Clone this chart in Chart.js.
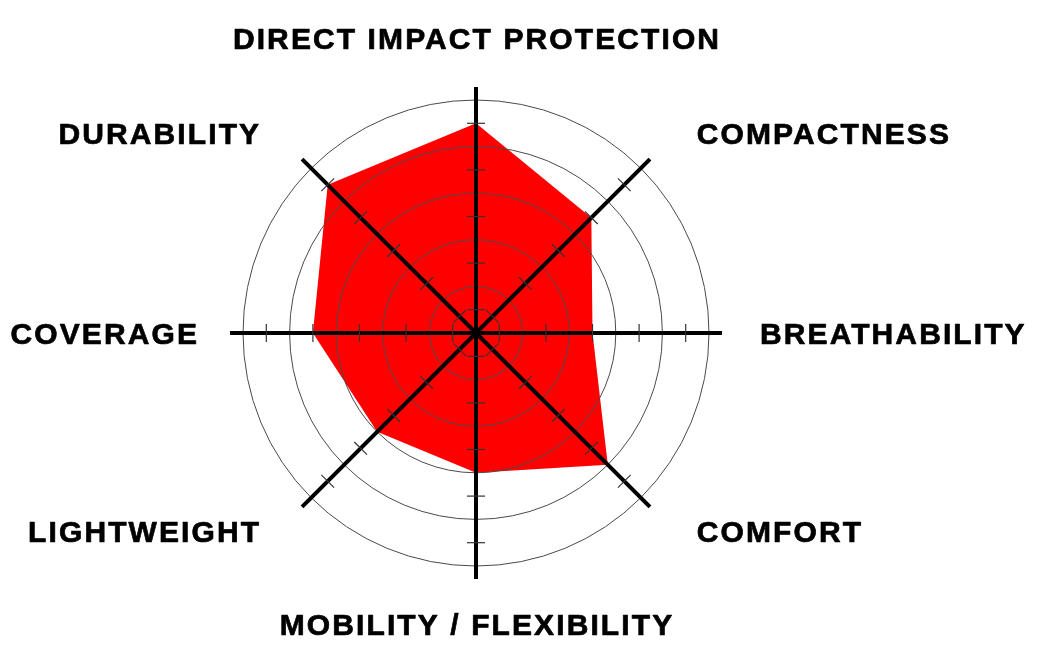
<!DOCTYPE html>
<html>
<head>
<meta charset="utf-8">
<script src="https://cdn.jsdelivr.net/npm/chart.js@4/dist/chart.umd.min.js"></script>
<style>
  html, body { margin: 0; padding: 0; background: #ffffff; }
  #wrap { width: 1040px; height: 648px; position: relative; }
</style>
</head>
<body>
<div id="wrap"><canvas id="radar"></canvas></div>
<script>
// Axis labels, clockwise from the top
const categories = [
  "DIRECT IMPACT PROTECTION",
  "COMPACTNESS",
  "BREATHABILITY",
  "COMFORT",
  "MOBILITY / FLEXIBILITY",
  "LIGHTWEIGHT",
  "COVERAGE",
  "DURABILITY",
];

// Scores on a 0-5 scale
const scores = [4.5, 3.5, 2.5, 4.0, 3.0, 3.0, 3.5, 4.5];

// Rings sit on whole values, the small axis ticks on the half values
const ringMax = 5;
const axisTicks = [0.5, 1.5, 2.5, 3.5, 4.5];

// Draws the heavy spokes, their tick marks and the category labels
const spokesPlugin = {
  id: "spokes",
  afterDraw(chart) {
    const scale = chart.scales.r;
    const ctx = chart.ctx;
    const n = chart.data.labels.length;
    const axisEnd = scale.getDistanceFromCenterForValue(ringMax) + 13;

    ctx.save();

    // spokes
    ctx.strokeStyle = "#000000";
    ctx.lineWidth = 4;
    ctx.lineCap = "butt";
    for (let i = 0; i < n; i++) {
      const p = scale.getPointPosition(i, axisEnd);
      ctx.beginPath();
      ctx.moveTo(scale.xCenter, scale.yCenter);
      ctx.lineTo(p.x, p.y);
      ctx.stroke();
    }

    // small ticks across each spoke
    ctx.strokeStyle = "#333333";
    ctx.lineWidth = 1.2;
    for (let i = 0; i < n; i++) {
      axisTicks.forEach((v) => {
        const p = scale.getPointPosition(i, scale.getDistanceFromCenterForValue(v));
        const nx = -Math.sin(p.angle) * 9;
        const ny = Math.cos(p.angle) * 9;
        ctx.beginPath();
        ctx.moveTo(p.x - nx, p.y - ny);
        ctx.lineTo(p.x + nx, p.y + ny);
        ctx.stroke();
      });
    }

    // labels
    ctx.fillStyle = "#000000";
    ctx.strokeStyle = "#000000";
    ctx.lineWidth = 0.7;
    ctx.lineJoin = "round";
    ctx.font = "bold 30px 'Liberation Sans', Arial, sans-serif";
    ctx.letterSpacing = "2.1px";
    ctx.textBaseline = "alphabetic";
    for (let i = 0; i < n; i++) {
      const p = scale.getPointPosition(i, scale.drawingArea + 51);
      const ux = Math.cos(p.angle);
      const uy = Math.sin(p.angle);
      let x = p.x;
      let y = p.y;
      const diagonal = Math.abs(ux) > 0.1 && Math.abs(uy) > 0.1;
      if (Math.abs(ux) < 0.1) {
        ctx.textAlign = "center";
        x += 1;
        y += Math.sign(uy) * 9 - 1.5;
      } else if (ux > 0) {
        ctx.textAlign = "left";
        if (diagonal) x += 20;
      } else {
        ctx.textAlign = "right";
        x += diagonal ? -14 : 7;
      }
      if (diagonal) y += uy > 0 ? -2.5 : 1.5;
      ctx.fillText(chart.data.labels[i], x, y + 10.7);
      ctx.strokeText(chart.data.labels[i], x, y + 10.7);
    }

    ctx.restore();
  },
};

new Chart(document.getElementById("radar").getContext("2d"), {
  type: "radar",
  data: {
    labels: categories,
    datasets: [
      {
        data: scores,
        backgroundColor: "#ff0000",
        borderWidth: 0,
        pointRadius: 0,
        fill: true,
      },
    ],
  },
  options: {
    responsive: true,
    maintainAspectRatio: false,
    animation: false,
    layout: {
      padding: { top: 100, bottom: 82, left: 243, right: 331 },
    },
    plugins: {
      legend: { display: false },
      tooltip: { enabled: false },
    },
    scales: {
      r: {
        min: 0,
        max: ringMax,
        ticks: { display: false, stepSize: 1 },
        grid: { circular: true, color: "#4a4a4a", lineWidth: 1, z: 1 },
        angleLines: { display: false },
        pointLabels: { display: false },
      },
    },
  },
  plugins: [spokesPlugin],
});
</script>
</body>
</html>
